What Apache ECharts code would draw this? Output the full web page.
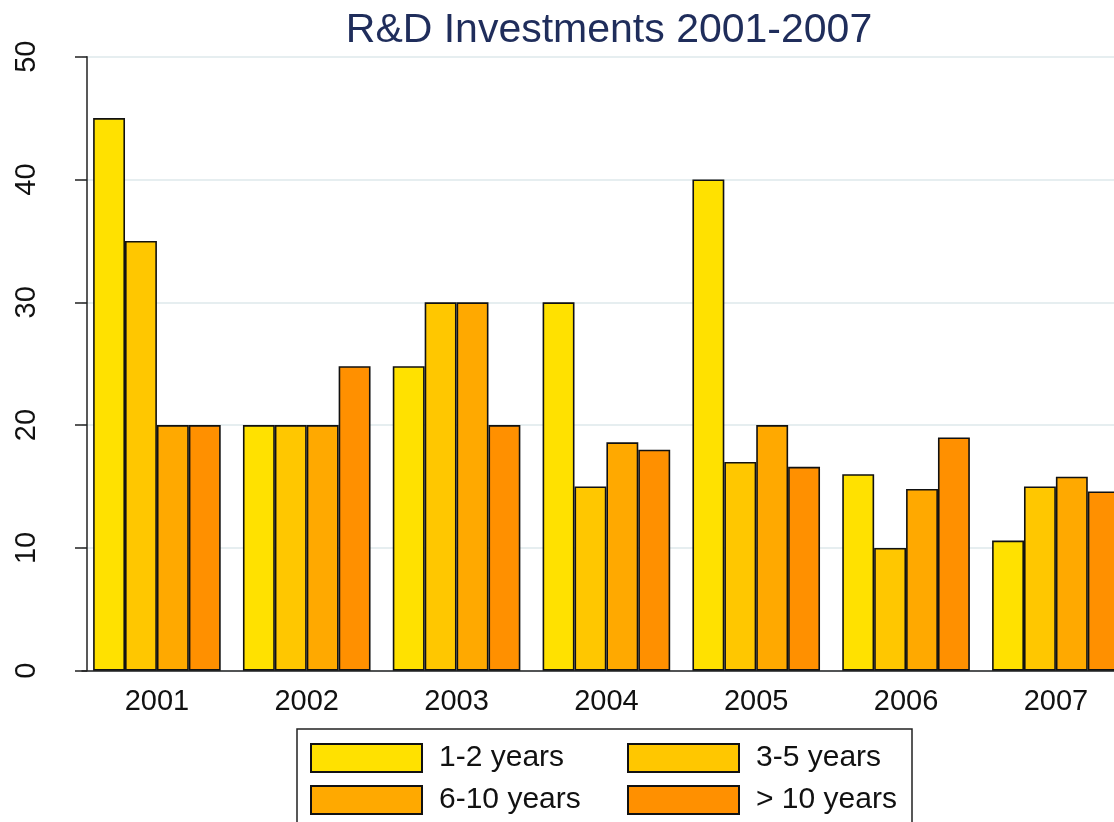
<!DOCTYPE html>
<html>
<head>
<meta charset="utf-8">
<script src="https://cdn.jsdelivr.net/npm/echarts@6/dist/echarts.min.js"></script>
<style>
html,body{margin:0;padding:0;background:#fff;}
#main{width:1114px;height:822px;}
</style>
</head>
<body>
<div id="main"></div>
<script>
var categories = ['2001','2002','2003','2004','2005','2006','2007'];
var seriesNames = ['1-2 years','3-5 years','6-10 years','> 10 years'];
var years1to2  = [45, 20, 24.8, 30, 40, 16, 10.6];
var years3to5  = [35, 20, 30, 15, 17, 10, 15];
var years6to10 = [20, 20, 30, 18.6, 20, 14.8, 15.8];
var yearsOver10 = [20, 24.8, 20, 18, 16.6, 19, 14.6];
var yTicks = [0, 10, 20, 30, 40, 50];

var colors = ['#FFE100', '#FFC700', '#FFA900', '#FF9000'];
var FONT = '"Liberation Sans", Arial, sans-serif';
var allData = [years1to2, years3to5, years6to10, yearsOver10];

var chart = echarts.init(document.getElementById('main'), null, {renderer:'canvas'});

var series = seriesNames.map(function(n, i){
  return {
    name: n,
    type: 'bar',
    data: allData[i],
    barWidth: 31.9,
    barGap: '0%',
    itemStyle: {color: colors[i], borderColor: '#111', borderWidth: 1.6},
    emphasis: {disabled: true}
  };
});

var legendPos = [
  {left: 310, top: 743},
  {left: 627, top: 743},
  {left: 310, top: 785},
  {left: 627, top: 785}
];
var legends = seriesNames.map(function(n, i){
  return {
    data: [{name: n, icon: 'rect'}],
    left: legendPos[i].left,
    top: legendPos[i].top,
    padding: 0,
    itemWidth: 111,
    itemHeight: 28,
    selectedMode: false,
    textStyle: {fontFamily: FONT, fontSize: 30, color: '#111', padding: [0,0,0,12]}
  };
});

chart.setOption({
  animation: false,
  backgroundColor: '#fff',
  color: colors,
  title: {
    text: 'R&D Investments 2001-2007',
    left: 604, top: 5,
    textAlign: 'center',
    textStyle: {fontFamily: FONT, fontSize: 41, fontWeight: 'normal', color: '#1F2D5B'}
  },
  legend: legends,
  graphic: [{
    type: 'rect',
    shape: {x: 297, y: 729, width: 615, height: 120},
    style: {fill: 'none', stroke: '#222', lineWidth: 1.5},
    silent: true
  }],
  grid: {left: 82, top: 56.7, width: 1048.8, height: 614, containLabel: false, outerBoundsMode: 'none'},
  xAxis: {
    type: 'category',
    data: categories,
    axisLine: {show: true, lineStyle: {color: '#222', width: 1.5}},
    axisTick: {show: false},
    axisLabel: {fontFamily: FONT, fontSize: 29, color: '#111', margin: 17}
  },
  yAxis: {
    type: 'value',
    min: yTicks[0], max: yTicks[yTicks.length-1], interval: 10,
    offset: -5,
    axisLine: {show: true, lineStyle: {color: '#222', width: 1.5}},
    axisTick: {show: true, length: 12, lineStyle: {color: '#222', width: 1.5}},
    axisLabel: {fontFamily: FONT, fontSize: 29, color: '#111', rotate: 90, margin: 46},
    splitLine: {show: true, lineStyle: {color: '#E6EEF0', width: 2}}
  },
  series: series
});
</script>
</body>
</html>
